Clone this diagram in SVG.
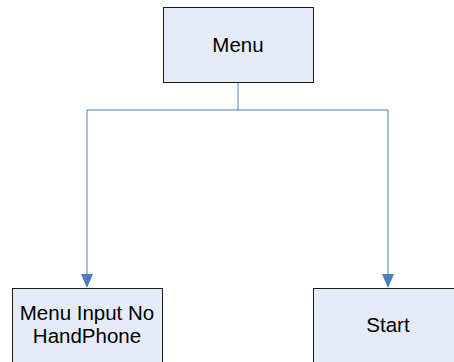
<svg xmlns="http://www.w3.org/2000/svg" width="454" height="362" viewBox="0 0 454 362">
  <style>
    .box { fill: #e6ecf7; stroke: #1a1a1a; stroke-width: 1; }
    .label { font-family: "Liberation Sans", Arial, sans-serif; font-size: 20.5px; fill: #000; text-anchor: middle; }
    .link { fill: none; stroke: #4a7ebb; stroke-width: 1; }
    .head { fill: #4a7ebb; }
  </style>
  <rect width="454" height="362" fill="#ffffff"/>

  <g id="connectors">
    <path class="link" d="M238,83 V110 M87,110 H388"/>
    <path class="link" d="M87,110 V274"/>
    <path class="link" d="M388,110 V274"/>
    <path class="head" d="M81,274 L93,274 L87,288 Z"/>
    <path class="head" d="M382,274 L394,274 L388,288 Z"/>
  </g>

  <g id="menu">
    <rect class="box" x="163.5" y="7.5" width="150" height="75"/>
    <text class="label" x="238" y="52">Menu</text>
  </g>

  <g id="menu-input">
    <rect class="box" x="12.5" y="288.5" width="150" height="80"/>
    <text class="label" x="87" y="320">Menu Input No</text>
    <text class="label" x="87" y="343">HandPhone</text>
  </g>

  <g id="start">
    <rect class="box" x="313.5" y="288.5" width="150" height="80"/>
    <text class="label" x="388" y="332">Start</text>
  </g>
</svg>
